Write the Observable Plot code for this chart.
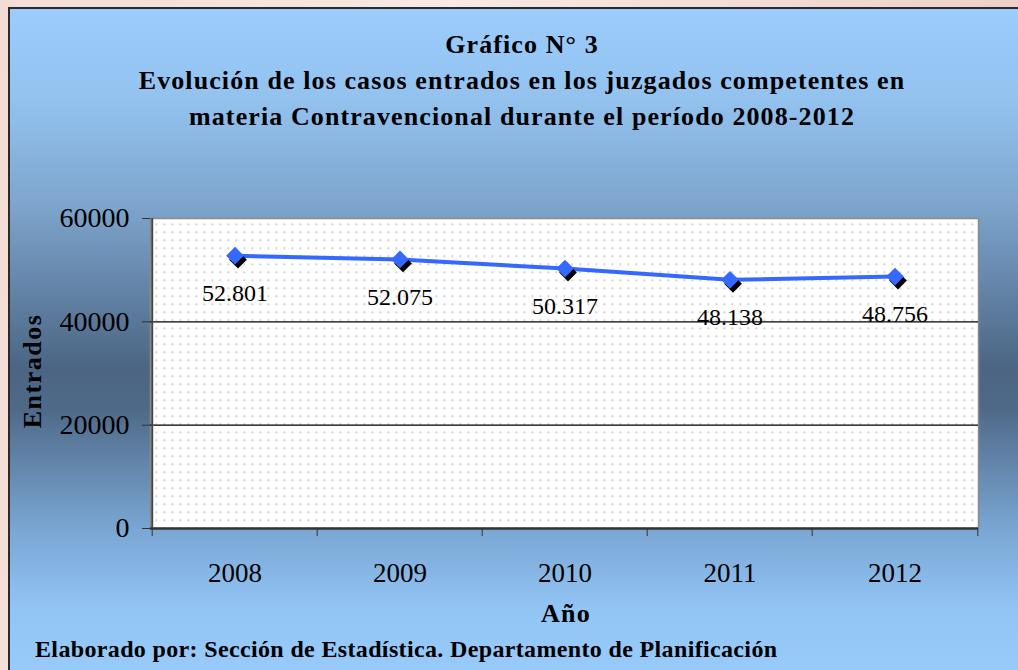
<!DOCTYPE html>
<html>
<head>
<meta charset="utf-8">
<script src="https://cdn.jsdelivr.net/npm/d3@7"></script>
<script src="https://cdn.jsdelivr.net/npm/@observablehq/plot@0.6"></script>
<style>
  html, body { margin: 0; padding: 0; width: 1018px; height: 670px; overflow: hidden; }
  body { background: linear-gradient(100deg, #f3dcd5 0%, #f7e9e4 40%, #eccbc3 100%); position: relative; font-family: "Liberation Serif", "DejaVu Serif", serif; }
  #panel { position: absolute; left: 8px; top: 7px; width: 1030px; height: 680px;
    border-left: 2px solid #2a2a2a; border-top: 2px solid #2a2a2a;
    background: linear-gradient(to bottom, #9bccfc 0px, #93c2ef 90px, #7fa7cf 190px, #4b6583 360px, #4f6a88 400px, #7aa6d3 520px, #92c4f4 600px, #99cbfb 680px); }
  .t { position: absolute; color: #000; font-weight: bold; white-space: nowrap; }
  #title { left: 22px; width: 1000px; top: 27px; text-align: center; font-size: 26px; line-height: 36px; letter-spacing: 1.1px; }
  #ylab { left: 33px; top: 371px; font-size: 26px; letter-spacing: 1.5px; transform: translate(-50%, -50%) rotate(-90deg); }
  #xlab { left: 566px; top: 614px; font-size: 26px; letter-spacing: 1.3px; transform: translate(-50%, -50%); }
  #caption { left: 35px; top: 636px; font-size: 24px; letter-spacing: 0.35px; line-height: 26px; }
  #chart { position: absolute; left: 0; top: 0; }
</style>
</head>
<body>
<div id="panel"></div>
<div class="t" id="title">Gráfico N° 3<br>Evolución de los casos entrados en los juzgados competentes en<br>materia Contravencional durante el período 2008-2012</div>
<div class="t" id="ylab">Entrados</div>
<div class="t" id="xlab">Año</div>
<div class="t" id="caption">Elaborado por: Sección de Estadística. Departamento de Planificación</div>
<div id="chart"></div>
<script>
const years = ["2008", "2009", "2010", "2011", "2012"];
const entrados = [52801, 52075, 50317, 48138, 48756];
const yTicks = [0, 20000, 40000, 60000];
const gridValues = [20000, 40000];

const data = years.map((y, i) => ({year: y, value: entrados[i]}));
const es = d3.formatLocale({decimal: ",", thousands: ".", grouping: [3], currency: ["", ""]});
const fmt = es.format(",d");

const W = 1018, H = 670, mL = 150, mR = 40, mT = 218, mB = 142;
const bw = (W - mL - mR) / years.length;
const font = "Liberation Serif";
const blue = "#3468ff";

const chart = Plot.plot({
  width: W, height: H,
  marginLeft: mL, marginRight: mR, marginTop: mT, marginBottom: mB,
  style: {background: "transparent", fontFamily: font, overflow: "visible", color: "#000"},
  x: {type: "band", domain: years, padding: 0},
  y: {domain: [0, 60000]},
  marks: [
    Plot.frame({fill: "url(#dotpat)", stroke: "#8a8a8a", strokeWidth: 1.5}),
    Plot.ruleY(gridValues, {stroke: "#000", strokeWidth: 1.2}),
    Plot.ruleY([0], {stroke: "#333", strokeWidth: 2.5}),
    Plot.ruleX([years[0]], {dx: -bw / 2, stroke: "#444", strokeWidth: 2}),
    Plot.axisY({ticks: yTicks, tickSize: 8, tickPadding: 13, tickFormat: d => String(d), fontSize: 28, label: null, stroke: "#333"}),
    Plot.axisX({tickSize: 8, dx: -bw / 2, tickFormat: () => "", label: null, stroke: "#333"}),
    Plot.axisX({ticks: [years[years.length - 1]], tickSize: 8, dx: bw / 2, tickFormat: () => "", label: null, stroke: "#333"}),
    Plot.axisX({tickSize: 0, tickPadding: 34, fontSize: 27, label: null}),
    Plot.line(data, {x: "year", y: "value", stroke: blue, strokeWidth: 4}),
    Plot.dot(data, {x: "year", y: "value", symbol: "diamond2", r: 8, fill: "#000", stroke: "none", dx: 3, dy: 4}),
    Plot.dot(data, {x: "year", y: "value", symbol: "diamond2", r: 8, fill: blue, stroke: "none"}),
    Plot.text(data, {x: "year", y: "value", text: d => fmt(d.value), dy: 38, fontSize: 24, fill: "#000"})
  ]
});

// dotted pattern for plot area background
const ns = "http://www.w3.org/2000/svg";
const defs = document.createElementNS(ns, "defs");
const pat = document.createElementNS(ns, "pattern");
pat.setAttribute("id", "dotpat");
pat.setAttribute("patternUnits", "userSpaceOnUse");
pat.setAttribute("x", mL + 2);
pat.setAttribute("y", mT + 2);
pat.setAttribute("width", 8);
pat.setAttribute("height", 8);
const bg = document.createElementNS(ns, "rect");
bg.setAttribute("width", 8); bg.setAttribute("height", 8); bg.setAttribute("fill", "#ffffff");
const dot = document.createElementNS(ns, "rect");
dot.setAttribute("x", 3); dot.setAttribute("y", 3);
dot.setAttribute("width", 1.5); dot.setAttribute("height", 1.5); dot.setAttribute("fill", "#b5b5b5");
pat.appendChild(bg); pat.appendChild(dot);
defs.appendChild(pat);
chart.insertBefore(defs, chart.firstChild);

document.getElementById("chart").appendChild(chart);
</script>
</body>
</html>
